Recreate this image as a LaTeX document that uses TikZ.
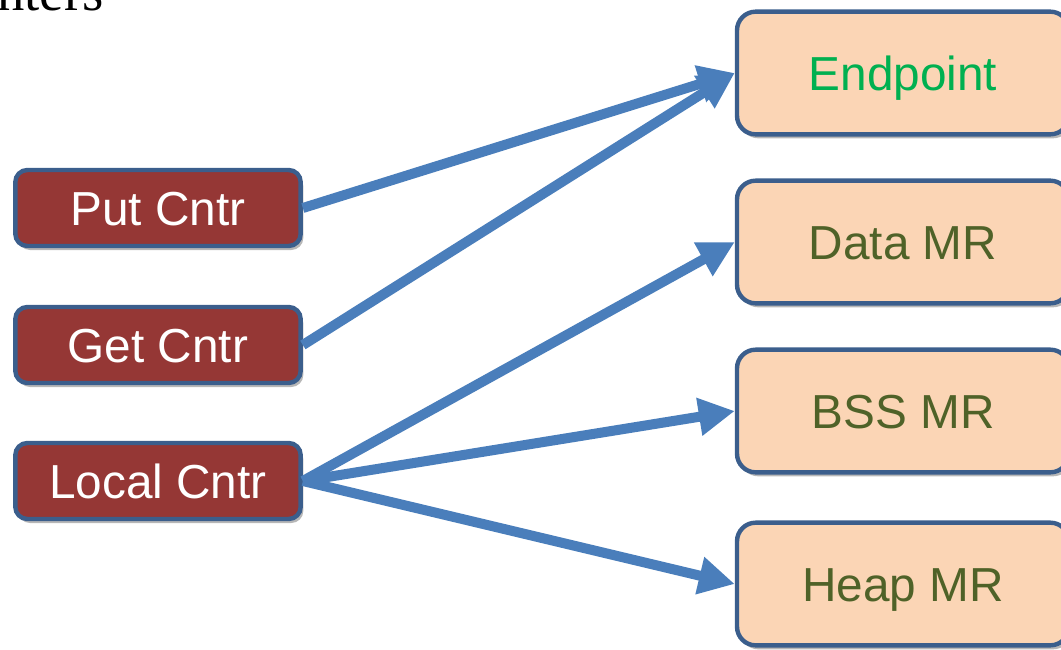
\documentclass[tikz,border=0pt]{standalone}
\usepackage{fontspec}
\setmainfont{Liberation Sans}
\newfontfamily\serifrm{Liberation Serif}
\usetikzlibrary{arrows.meta,shadows}
\definecolor{cntrfill}{HTML}{953735}
\definecolor{boxline}{HTML}{3B5E8C}
\definecolor{mrfill}{HTML}{FBD5B5}
\definecolor{arrowblue}{HTML}{4A7EBB}
\definecolor{epgreen}{HTML}{00B050}
\definecolor{mrtext}{HTML}{4F6228}
\tikzset{
  boxshadow/.style={drop shadow={shadow xshift=2pt,shadow yshift=-3pt,opacity=0.4,fill=black!70}},
  cntrbox/.style={draw=boxline,line width=3.3pt,fill=cntrfill,rounded corners=9pt,
    minimum width=214pt,minimum height=57pt,text=white,
    font=\fontsize{35.8}{42}\selectfont,text height=25.5pt,text depth=0pt,boxshadow},
  mrbox/.style={draw=boxline,line width=3.3pt,fill=mrfill,rounded corners=14pt,
    minimum width=249pt,minimum height=92pt,text=mrtext,
    font=\fontsize{35.8}{42}\selectfont,text height=25.5pt,text depth=0pt,boxshadow},
  conn/.style={draw=arrowblue,line width=7.5pt,-{Triangle[length=27pt,width=27pt]}}
}
\begin{document}
\begin{tikzpicture}[x=0.75pt,y=-0.75pt]
\useasboundingbox (0,0) rectangle (1061,650);
\clip (0,0) rectangle (1061,650);
\node[anchor=base west,inner sep=0pt,font=\serifrm\fontsize{41}{48}\selectfont] (title) at (-3,10) {nters};
\node[cntrbox] (put) at (158,208) {Put Cntr};
\node[cntrbox] (get) at (158,345) {Get Cntr};
\node[cntrbox] (local) at (158,481) {Local Cntr};
\node[mrbox,text=epgreen] (ep) at (903,73) {Endpoint};
\node[mrbox] (data) at (903,242) {Data MR};
\node[mrbox] (bss) at (903,411) {BSS MR};
\node[mrbox] (heap) at (903,584) {Heap MR};
\draw[conn] (put.east) -- (ep.west);
\draw[conn] (get.east) -- (ep.west);
\draw[conn] (local.east) -- (data.west);
\draw[conn] (local.east) -- (bss.west);
\draw[conn] (local.east) -- (heap.west);
\end{tikzpicture}
\end{document}
